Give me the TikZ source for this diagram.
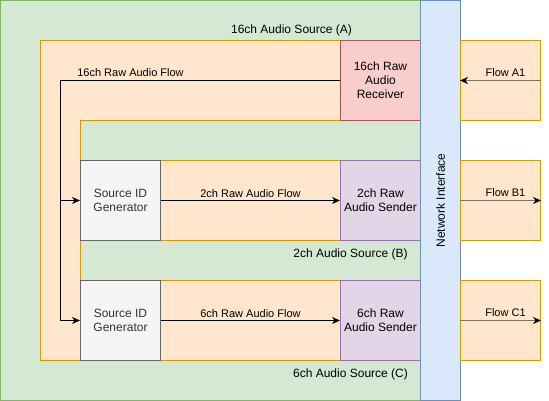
\documentclass[tikz,border=0pt]{standalone}
\usepackage{fontspec}
\setmainfont{Liberation Sans}
\usetikzlibrary{arrows.meta}
\definecolor{gfill}{HTML}{D5E8D4}\definecolor{gline}{HTML}{82B366}
\definecolor{ofill}{HTML}{FFE6CC}\definecolor{oline}{HTML}{D79B00}
\definecolor{rfill}{HTML}{F8CECC}\definecolor{rline}{HTML}{B85450}
\definecolor{pfill}{HTML}{E1D5E7}\definecolor{pline}{HTML}{9673A6}
\definecolor{bfill}{HTML}{DAE8FC}\definecolor{bline}{HTML}{6C8EBF}
\definecolor{sfill}{HTML}{F5F5F5}\definecolor{sline}{HTML}{666666}
\definecolor{stext}{HTML}{333333}
\definecolor{flowline}{HTML}{807060}
\begin{document}
\begin{tikzpicture}[x=1pt,y=-1pt,
  big/.style={font=\fontsize{12}{14}\selectfont},
  small/.style={font=\fontsize{11}{13}\selectfont},
  boxbase/.style={draw, line width=1pt, minimum width=80pt, minimum height=80pt, inner sep=0pt, align=center, big},
  recvbox/.style={boxbase, fill=rfill, draw=rline},
  sendbox/.style={boxbase, fill=pfill, draw=pline},
  genbox/.style={boxbase, fill=sfill, draw=sline, text=stext},
  flowbox/.style={boxbase, fill=ofill, draw=oline},
  arr/.style={line width=1pt, -{Stealth[length=8pt,width=7pt,inset=2.5pt]}},
  flowarr/.style={line width=1.6pt, draw=flowline, -{Stealth[length=8pt,width=7pt,inset=2.5pt,color=black]}},
  lbl/.style={small, inner sep=1pt}
]
\useasboundingbox (-0.5,-0.5) rectangle (548.5,400.5);
% containers
\filldraw[fill=gfill, draw=gline, line width=1pt] (0,0) rectangle (420,400);
\filldraw[fill=ofill, draw=oline, line width=1pt] (40,40) rectangle (420,360);
\filldraw[fill=gfill, draw=oline, line width=1pt] (80,120) rectangle (420,280);
\filldraw[fill=ofill, draw=oline, line width=1pt] (80,160) rectangle (420,240);
\filldraw[fill=ofill, draw=oline, line width=1pt] (80,280) rectangle (420,360);
\node[big] (labA) at (291,30) {16ch Audio Source (A)};
\node[big] (labB) at (350,254) {2ch Audio Source (B)};
\node[big] (labC) at (350,374) {6ch Audio Source (C)};
% boxes
\node[recvbox] (recv) at (380,80) {16ch Raw\\Audio\\Receiver};
\node[genbox] (genB) at (120,200) {Source ID\\Generator};
\node[genbox] (genC) at (120,320) {Source ID\\Generator};
\node[sendbox] (sendB) at (380,200) {2ch Raw\\Audio Sender};
\node[sendbox] (sendC) at (380,320) {6ch Raw\\Audio Sender};
\node[draw=bline, fill=bfill, line width=1pt, rotate=90, minimum width=400pt, minimum height=40pt, inner sep=0pt, big] (net) at (440,200) {Network Interface};
\node[flowbox] (fA) at (500,80) {};
\node[flowbox] (fB) at (500,200) {};
\node[flowbox] (fC) at (500,320) {};
% connectors
\coordinate (j) at (60,80);
\draw[line width=1pt] (recv.west) -- (j);
\draw[arr] (j) |- (genB.west);
\draw[arr] (j) |- (genC.west);
\node[lbl] at (130,72) {16ch Raw Audio Flow};
\draw[arr] (genB.east) -- (sendB.west) node[lbl, midway, above=1pt] {2ch Raw Audio Flow};
\draw[arr] (genC.east) -- (sendC.west) node[lbl, midway, above=1pt] {6ch Raw Audio Flow};
\draw[flowarr] (fA.east) -- (fA.west |- fA.east);
\node[lbl] at (505,72) {Flow A1};
\draw[flowarr] (fB.west) -- (fB.east);
\node[lbl] at (505,192) {Flow B1};
\draw[flowarr] (fC.west) -- (fC.east);
\node[lbl] at (505,312) {Flow C1};
\end{tikzpicture}
\end{document}
